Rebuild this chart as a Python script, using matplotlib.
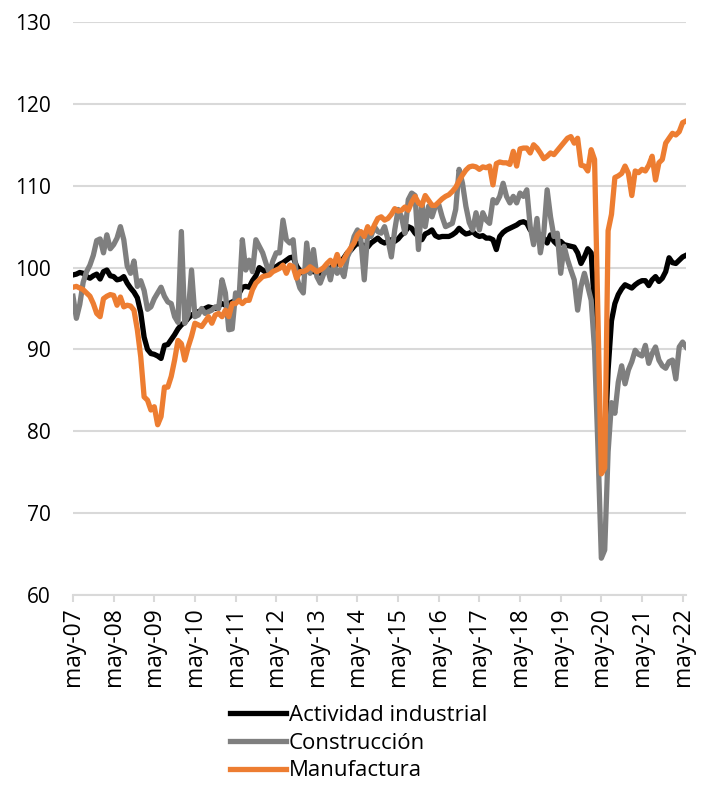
import matplotlib
matplotlib.use("Agg")
import matplotlib.pyplot as plt
import numpy as np

plt.rcParams['font.family'] = ['Open Sans', 'DejaVu Sans']

# monthly index, may-07 .. jun-22
actividad = [
    99.1, 99.2, 99.4, 99.3, 98.9, 98.7, 99.0, 99.2, 98.6, 99.5, 99.7, 99.0,
    98.9, 98.5, 98.6, 98.9, 98.1, 97.5, 97.0, 96.3, 94.5, 91.5, 90.0, 89.5,
    89.4, 89.2, 88.9, 90.5, 90.6, 91.2, 91.8, 92.5, 93.0, 93.3, 93.8, 94.2,
    94.4, 94.6, 94.8, 95.0, 95.2, 95.1, 95.0, 95.3, 95.6, 95.4, 95.6, 95.8,
    96.0, 96.8, 97.6, 97.7, 97.6, 98.4, 99.0, 100.0, 99.7, 99.4, 99.6, 100.0,
    100.1, 100.4, 100.6, 100.9, 101.2, 101.3, 100.2, 99.6, 99.3, 99.6, 99.7, 99.5,
    99.4, 99.3, 99.5, 99.6, 99.9, 100.3, 100.4, 100.7, 101.2, 101.8, 102.1, 102.6,
    103.0, 102.8, 102.7, 102.5, 103.0, 103.3, 103.6, 103.2, 103.0, 103.2, 103.4, 103.2,
    103.5, 104.0, 104.3, 105.0, 104.8, 104.2, 103.8, 103.4, 104.1, 104.3, 104.6, 103.9,
    103.7, 103.8, 103.8, 103.8, 104.0, 104.3, 104.8, 104.4, 104.1, 104.2, 104.4, 104.0,
    103.8, 103.9, 103.6, 103.6, 103.4, 102.2, 103.8, 104.3, 104.6, 104.8, 105.0, 105.2,
    105.5, 105.6, 105.4, 104.6, 104.4, 104.2, 104.0, 103.6, 103.0, 104.0, 103.2, 102.8,
    103.2, 102.8, 102.7, 102.6, 102.5, 101.8, 100.5, 101.3, 102.3, 101.8, 95.0, 85.0,
    77.0, 78.0, 87.5, 93.5, 95.6, 96.7, 97.4, 97.9, 97.7, 97.5, 97.9, 98.2,
    98.4, 98.4, 97.8, 98.5, 98.9, 98.3, 98.7, 99.5, 101.2, 100.6, 100.5, 100.9,
    101.3, 101.5,
]

construccion = [
    96.5, 93.8, 95.5, 98.2, 99.5, 100.3, 101.5, 103.3, 103.5, 101.8, 104.0, 102.3,
    102.8, 103.6, 105.0, 103.4, 100.2, 99.3, 100.8, 97.7, 98.4, 97.2, 94.9, 95.2,
    96.2, 96.9, 97.6, 96.5, 95.8, 95.6, 94.0, 93.3, 104.4, 93.2, 94.3, 99.7,
    94.0, 94.2, 95.0, 94.4, 94.6, 94.8, 95.2, 95.0, 98.5, 96.9, 92.4, 92.5,
    96.9, 96.0, 103.4, 99.7, 100.9, 99.5, 103.4, 102.6, 101.8, 100.5, 99.3, 100.8,
    101.8, 101.8, 105.8, 103.4, 103.0, 103.4, 98.9, 97.5, 96.9, 103.0, 99.3, 102.2,
    98.9, 98.1, 99.2, 100.1, 98.5, 100.5, 99.3, 99.8, 98.9, 101.3, 102.2, 103.8,
    104.6, 103.4, 98.5, 104.2, 103.8, 105.0, 104.4, 104.2, 105.0, 103.4, 101.3, 104.6,
    107.1, 106.2, 104.2, 108.3, 109.1, 108.8, 102.2, 107.9, 105.0, 107.5, 106.2, 107.5,
    107.7, 106.2, 105.0, 105.2, 105.4, 107.1, 112.0, 110.3, 107.5, 105.5, 104.6, 106.7,
    104.6, 106.7, 105.8, 105.4, 108.3, 107.9, 108.7, 110.3, 108.7, 107.9, 108.7, 107.9,
    109.1, 108.7, 109.5, 105.0, 102.8, 106.0, 101.8, 104.2, 109.5, 106.2, 103.8, 104.2,
    99.3, 102.6, 101.0, 99.7, 98.5, 94.8, 97.7, 99.3, 97.7, 96.0, 90.0, 78.0,
    64.5, 65.5, 77.5, 83.5, 82.2, 86.0, 88.0, 85.8, 87.5, 88.5, 89.9, 89.4,
    89.2, 90.5, 88.3, 89.5, 90.3, 88.7, 88.0, 87.7, 88.5, 88.7, 86.4, 90.3,
    90.9, 90.3,
]

manufactura = [
    97.6, 97.7, 97.5, 97.3, 96.9, 96.5, 95.6, 94.4, 94.0, 96.2, 96.5, 96.7,
    96.6, 95.4, 96.4, 95.2, 95.4, 95.3, 94.8, 92.4, 89.1, 84.2, 83.8, 82.6,
    83.0, 80.8, 81.8, 85.4, 85.4, 86.7, 88.7, 91.1, 90.7, 88.7, 90.3, 91.6,
    93.2, 93.0, 92.8, 93.4, 94.0, 93.2, 94.2, 94.4, 94.0, 94.8, 94.0, 95.6,
    95.6, 96.0, 95.6, 96.0, 96.0, 97.3, 98.1, 98.5, 98.9, 99.0, 99.1, 99.5,
    99.7, 99.9, 100.3, 99.3, 100.3, 100.1, 98.7, 99.5, 99.5, 99.7, 100.1, 99.8,
    99.5, 99.7, 100.0, 100.5, 100.9, 100.3, 101.6, 100.3, 101.0, 101.8, 102.4, 103.0,
    104.0, 104.4, 103.8, 105.0, 104.2, 105.2, 106.0, 106.2, 105.8, 106.0, 106.5, 107.2,
    106.9, 107.0, 107.4, 107.0, 108.0, 108.7, 107.9, 107.6, 108.8, 108.2, 107.6, 107.6,
    108.0, 108.4, 108.7, 108.9, 109.3, 109.8, 110.6, 111.3, 111.9, 112.3, 112.4, 112.3,
    112.0, 112.3, 112.2, 112.4, 110.1, 112.7, 112.9, 112.8, 112.8, 112.6, 114.2, 112.4,
    114.5, 114.6, 114.6, 114.0, 115.0, 114.6, 114.0, 113.3, 113.6, 114.0, 113.8, 114.3,
    114.8, 115.3, 115.8, 116.0, 115.2, 115.8, 112.5, 112.4, 111.8, 114.4, 113.2, 94.0,
    74.8, 75.5, 104.5, 106.5, 111.0, 111.2, 111.5, 112.4, 111.5, 108.8, 111.8, 111.6,
    112.0, 111.8, 112.5, 113.6, 110.7, 112.8, 113.2, 115.2, 115.8, 116.4, 116.2, 116.6,
    117.7, 117.9,
]

tick_labels = ['may-%02d' % y for y in range(7, 23)]

fig = plt.figure(figsize=(7.05, 7.87), dpi=100)
ax = fig.add_axes([73 / 705, 1 - 595 / 787, 613 / 705, 573 / 787])

x = np.arange(len(actividad))
ax.plot(x, actividad, color='black', lw=3.8, solid_joinstyle='round', label='Actividad industrial')
ax.plot(x, construccion, color='#7f7f7f', lw=3.8, solid_joinstyle='round', label='Construcción')
ax.plot(x, manufactura, color='#ed7d31', lw=3.8, solid_joinstyle='round', label='Manufactura')

ax.set_ylim(60, 130)
ax.set_yticks(range(60, 131, 10))
ax.set_xlim(0, 181)
ax.set_xticks(range(0, 181, 12))
ax.set_xticklabels(tick_labels, rotation=90)

ax.grid(axis='y', color='#d9d9d9', lw=1.5)
ax.set_axisbelow(True)
for s in ['top', 'right', 'left']:
    ax.spines[s].set_visible(False)
ax.spines['bottom'].set_color('#d9d9d9')
ax.spines['bottom'].set_linewidth(1.5)
ax.tick_params(axis='y', length=0, labelsize=15, pad=16)
ax.tick_params(axis='x', length=5, color='#d9d9d9', width=1.5, labelsize=16.5, pad=4)

fig.legend(loc='upper left', bbox_to_anchor=(230 / 705, 1 - 705 / 787),
           frameon=False, fontsize=16, handlelength=2.5, handletextpad=0.15,
           labelspacing=0.3, borderaxespad=0, borderpad=0)

fig.savefig('out.png', dpi=100)
